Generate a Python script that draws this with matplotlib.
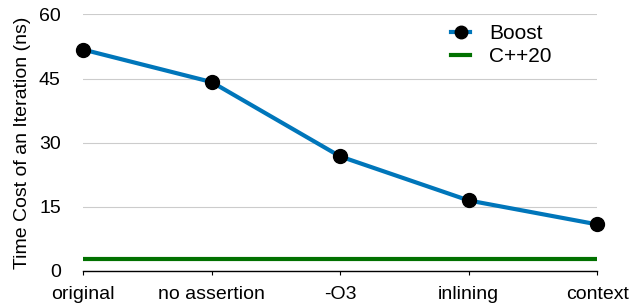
import matplotlib
matplotlib.use("Agg")
import matplotlib.pyplot as plt

plt.rcParams["font.family"] = ["Liberation Sans", "DejaVu Sans"]

stages = ["original", "no assertion", "-O3", "inlining", "context"]
boost = [51.8, 44.2, 26.8, 16.5, 10.9]
cpp20 = [2.8, 2.8, 2.8, 2.8, 2.8]
yticks = [0, 15, 30, 45, 60]

fig = plt.figure(figsize=(6.34, 3.05), dpi=100)
ax = fig.add_axes([0.131, 0.1115, 0.811, 0.841])

x = list(range(len(stages)))
ax.plot(x, boost, color="#0076BA", lw=3, marker="o", ms=10,
        mfc="black", mec="black", label="Boost", zorder=3, clip_on=False)
ax.plot(x, cpp20, color="#017100", lw=3, label="C++20", zorder=2)

ax.set_xlim(0, len(stages) - 1)
ax.set_ylim(0, 60)
ax.set_yticks(yticks)
ax.set_xticks(x)
ax.set_xticklabels(stages, fontsize=14)
ax.tick_params(axis="y", length=0, labelsize=14, pad=16)
ax.tick_params(axis="x", length=3, width=0.8, direction="out", pad=8)
ax.grid(axis="y", color="#cccccc", lw=0.8)
ax.set_axisbelow(True)
for s in ["left", "right", "top"]:
    ax.spines[s].set_visible(False)
ax.spines["bottom"].set_linewidth(1)
ax.set_ylabel("Time Cost of an Iteration (ns)", fontsize=14, labelpad=6)

ax.legend(loc="upper left", bbox_to_anchor=(0.68, 1.035), frameon=False,
          fontsize=15, handlelength=0.9, handletextpad=0.9,
          labelspacing=0.2, markerscale=0.9)

fig.savefig("out.png", dpi=100)
